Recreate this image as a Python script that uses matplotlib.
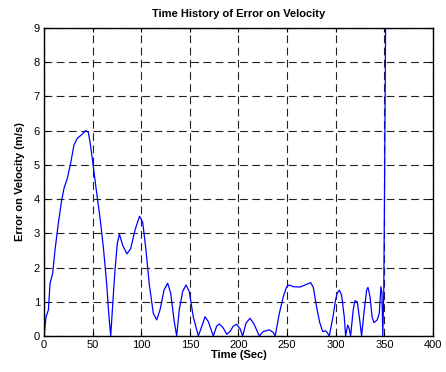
import matplotlib
matplotlib.use("Agg")
import matplotlib.pyplot as plt

time_sec = [0, 2.1, 4.5, 6.2, 8.9, 11.3, 14.7, 18.2, 20.6, 24, 27.4, 30.8, 34.3, 38.7, 42.8,
            45.6, 48, 50.7, 54.2, 57.6, 61, 64.4, 66.8, 68.6, 70.6, 73, 75.4, 77.5, 80.9,
            85.3, 89.1, 93.6, 98.3, 101.5, 104.9, 108.3, 112.4, 115.9, 119.3, 123.4, 127.2,
            130.3, 133.7, 136.4, 139.1, 142.6, 146, 149.4, 153.5, 158.7, 162.1, 165.6, 169,
            174.1, 177.6, 180.3, 184, 188, 191.3, 194.7, 198.1, 201.5, 204.3, 207.7, 211.8,
            216, 221.4, 225.5, 231.7, 235.8, 237.8, 242, 246.1, 249.6, 252.2, 256.4, 263.2,
            268.4, 274.2, 277, 280, 283.5, 286.6, 289.5, 291.3, 293.4, 297.5, 299.8, 301.6,
            303.7, 306.1, 308.8, 310.2, 312.3, 314, 315.3, 318, 319.8, 322.2, 324.9, 326.6,
            329, 331.8, 333.2, 335.3, 337.4, 339.3, 342.7, 344.8, 346.5, 347.6, 348.4,
            349.4, 350.3, 351.3]
error_vel = [0, 0.56, 0.76, 1.54, 1.83, 2.51, 3.29, 3.98, 4.32, 4.61, 5.05, 5.58, 5.78, 5.88,
             6.0, 5.95, 5.54, 4.95, 4.17, 3.45, 2.6, 1.54, 0.56, 0, 0.9, 1.93, 2.71, 2.98,
             2.65, 2.4, 2.55, 3.1, 3.5, 3.32, 2.5, 1.5, 0.66, 0.47, 0.76, 1.34, 1.54, 1.25,
             0.47, 0, 0.76, 1.3, 1.49, 1.3, 0.56, 0, 0.27, 0.56, 0.42, 0, 0.29, 0.35, 0.25,
             0.05, 0.13, 0.29, 0.34, 0.22, 0, 0.37, 0.52, 0.35, 0, 0.13, 0.18, 0.1, 0, 0.66,
             1.15, 1.44, 1.49, 1.44, 1.43, 1.49, 1.56, 1.42, 0.9, 0.4, 0.13, 0.15, 0.1, 0,
             0.61, 1.05, 1.25, 1.34, 1.19, 0.56, 0, 0.32, 0.2, 0, 0.76, 1.03, 1.0, 0.42, 0,
             0.66, 1.34, 1.42, 1.15, 0.56, 0.39, 0.47, 0.66, 1.44, 1.25, 0, 1.2, 4.5, 8.95]

x_ticks = [0, 50, 100, 150, 200, 250, 300, 350, 400]
y_ticks = [0, 1, 2, 3, 4, 5, 6, 7, 8, 9]

plt.rcParams['font.family'] = ['Liberation Sans', 'DejaVu Sans']

fig = plt.figure(figsize=(4.46, 3.72), dpi=100)
ax = fig.add_axes([0.0987, 0.0968, 0.872, 0.828])
ax.plot(time_sec, error_vel, color=(0, 0, 1), linewidth=0.9)
ax.set_xlim(0, 400)
ax.set_ylim(0, 9)
ax.set_xticks(x_ticks)
ax.set_yticks(y_ticks)
ax.tick_params(direction='in', labelsize=8, length=3, width=0.8, top=True, right=True, pad=3)
ax.grid(True, color='#222222', linestyle=(0, (7, 4)), linewidth=0.8)
for s in ax.spines.values():
    s.set_linewidth(1.0)
ax.set_title('Time History of Error on Velocity', fontsize=8, fontweight='bold', pad=8)
ax.set_xlabel('Time (Sec)', fontsize=8, fontweight='bold', labelpad=0)
ax.set_ylabel('Error on Velocity (m/s)', fontsize=8, fontweight='bold', labelpad=6)
fig.savefig('out.png', dpi=100)
